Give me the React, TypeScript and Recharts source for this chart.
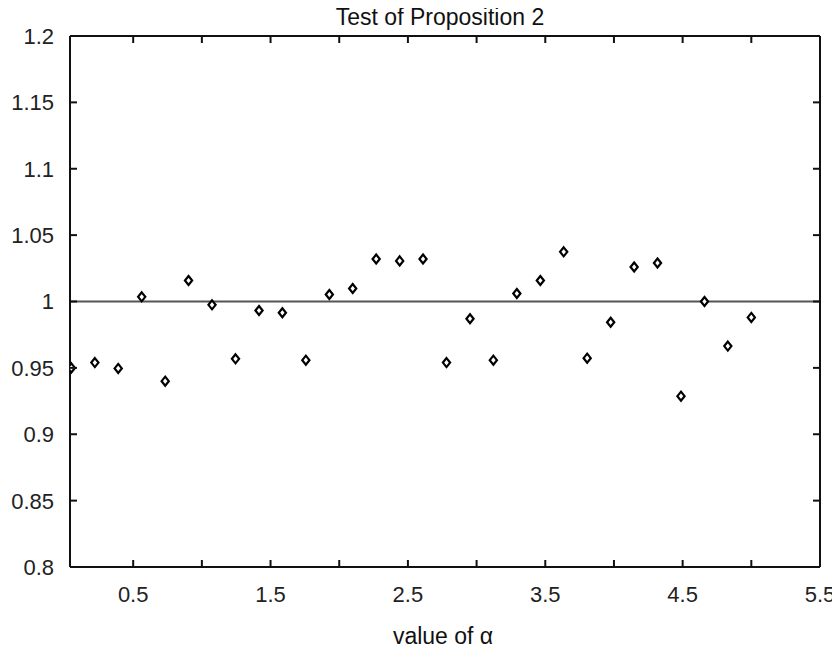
import {
  ScatterChart,
  Scatter,
  XAxis,
  YAxis,
  ReferenceLine,
} from 'recharts'

const alphaValues = [
  0.05, 0.221, 0.391, 0.562, 0.733, 0.903, 1.074, 1.245, 1.416, 1.586,
  1.757, 1.928, 2.098, 2.269, 2.44, 2.61, 2.781, 2.952, 3.122, 3.293,
  3.464, 3.634, 3.805, 3.976, 4.147, 4.317, 4.488, 4.659, 4.829, 5.0,
]

const ratioValues = [
  0.95, 0.954, 0.9496, 1.0035, 0.94, 1.0158, 0.9975, 0.9568, 0.9932, 0.9915,
  0.9558, 1.0053, 1.0098, 1.032, 1.0306, 1.032, 0.954, 0.987, 0.9558, 1.006,
  1.0158, 1.0374, 0.9573, 0.9844, 1.026, 1.029, 0.9287, 1.0, 0.9664, 0.988,
]

const xTicks = [0.5, 1, 1.5, 2, 2.5, 3, 3.5, 4, 4.5, 5, 5.5]
const xTickLabels = ['0.5', '', '1.5', '', '2.5', '', '3.5', '', '4.5', '', '5.5']
const yTicks = [0.8, 0.85, 0.9, 0.95, 1, 1.05, 1.1, 1.15, 1.2]
const yTickLabels = ['0.8', '0.85', '0.9', '0.95', '1', '1.05', '1.1', '1.15', '1.2']

const points = alphaValues.map((a, i) => ({ alpha: a, ratio: ratioValues[i] }))

const FONT = '"Liberation Sans", Arial, sans-serif'
const INK = '#111'
const TICK_LEN = 7

function Diamond(props: any) {
  const { cx, cy } = props
  if (cx == null || cy == null) return null
  return (
    <path
      d={`M${cx},${cy - 4.5} L${cx + 3.6},${cy} L${cx},${cy + 4.5} L${cx - 3.6},${cy} Z`}
      fill="#fff"
      stroke="#000"
      strokeWidth={2.2}
    />
  )
}

// ticks point inward, like the original plot
function BottomTick({ x, y, payload }: any) {
  const label = xTickLabels[xTicks.indexOf(payload.value)] ?? ''
  return (
    <g>
      <line x1={x} y1={y} x2={x} y2={y - TICK_LEN} stroke={INK} strokeWidth={2} />
      {label && (
        <text x={x} y={y + 19} dy="0.71em" textAnchor="middle" fontSize={22} fontFamily={FONT} fill="#222">
          {label}
        </text>
      )}
    </g>
  )
}

function TopTick({ x, y }: any) {
  return <line x1={x} y1={y} x2={x} y2={y + TICK_LEN} stroke={INK} strokeWidth={2} />
}

function LeftTick({ x, y, payload }: any) {
  const label = yTickLabels[yTicks.indexOf(payload.value)] ?? ''
  return (
    <g>
      <line x1={x} y1={y} x2={x + TICK_LEN} y2={y} stroke={INK} strokeWidth={2} />
      <text x={x - 16} y={y} dy="0.36em" textAnchor="end" fontSize={22} fontFamily={FONT} fill="#222">
        {label}
      </text>
    </g>
  )
}

function RightTick({ x, y }: any) {
  return <line x1={x} y1={y} x2={x - TICK_LEN} y2={y} stroke={INK} strokeWidth={2} />
}

export default function App() {
  return (
    <div style={{ position: 'relative', width: 832, height: 641, fontFamily: FONT }}>
      <ScatterChart
        width={832}
        height={641}
        margin={{ top: 20, right: 12, left: 0, bottom: 0 }}
      >
        <XAxis
          xAxisId="bottom"
          type="number"
          dataKey="alpha"
          domain={[0.04, 5.5]}
          ticks={xTicks}
          interval={0}
          allowDataOverflow
          height={82}
          tickSize={0}
          tickMargin={0}
          tickLine={false}
          tick={<BottomTick />}
          axisLine={{ stroke: INK, strokeWidth: 2 }}
        />
        <XAxis
          xAxisId="top"
          orientation="top"
          type="number"
          dataKey="alpha"
          domain={[0.04, 5.5]}
          ticks={xTicks}
          interval={0}
          allowDataOverflow
          height={8}
          tickSize={0}
          tickMargin={0}
          tickLine={false}
          tick={<TopTick />}
          axisLine={{ stroke: INK, strokeWidth: 2 }}
        />
        <YAxis
          yAxisId="left"
          type="number"
          dataKey="ratio"
          domain={[0.8, 1.2]}
          ticks={yTicks}
          interval={0}
          allowDataOverflow
          width={62}
          tickSize={0}
          tickMargin={0}
          tickLine={false}
          tick={<LeftTick />}
          axisLine={{ stroke: INK, strokeWidth: 2 }}
        />
        <YAxis
          yAxisId="right"
          orientation="right"
          type="number"
          dataKey="ratio"
          domain={[0.8, 1.2]}
          ticks={yTicks}
          interval={0}
          allowDataOverflow
          width={8}
          tickSize={0}
          tickMargin={0}
          tickLine={false}
          tick={<RightTick />}
          axisLine={{ stroke: INK, strokeWidth: 2 }}
        />
        <ReferenceLine
          xAxisId="bottom"
          yAxisId="left"
          y={1}
          stroke="#555"
          strokeWidth={2}
        />
        <Scatter
          xAxisId="top"
          yAxisId="right"
          data={points}
          shape={() => <g />}
          isAnimationActive={false}
        />
        <Scatter
          xAxisId="bottom"
          yAxisId="left"
          data={points}
          shape={<Diamond />}
          isAnimationActive={false}
        />
      </ScatterChart>
      <div
        style={{
          position: 'absolute',
          top: -2.5,
          left: 0,
          width: 864,
          textAlign: 'center',
          fontSize: 23,
          lineHeight: '23px',
          color: INK,
          pointerEvents: 'none',
        }}
      >
        Test of Proposition 2
      </div>
      <div
        style={{
          position: 'absolute',
          top: 617,
          left: 0,
          width: 870,
          textAlign: 'center',
          fontSize: 23,
          lineHeight: '23px',
          color: INK,
          pointerEvents: 'none',
        }}
      >
        value of α
      </div>
    </div>
  )
}
